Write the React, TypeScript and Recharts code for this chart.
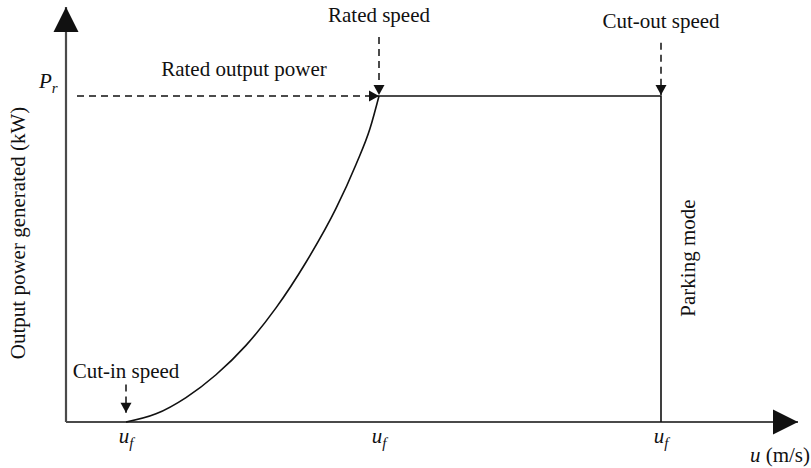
import React from "react";
import { ComposedChart, Line, XAxis, YAxis, ReferenceDot } from "recharts";

const FONT = "'Liberation Serif', 'Times New Roman', Times, serif";
const INK = "#111";
const AXIS_INK = "#4a4a4a";

// Schematic wind speeds (m/s) and power as a fraction of rated power
const cutInSpeed = 3;
const ratedSpeed = 15.65;
const cutOutSpeed = 29.75;
const ratedPower = 1;
const axisMaxSpeed = 36.6;
const axisMaxPower = 1.273;

// Ramp between cut-in and rated speed
const rampSpeeds = [3, 4.5, 6, 7.5, 9, 10.5, 12, 13.5, 14.5, 15.2, 15.65];
const rampPowers = [0, 0.025, 0.075, 0.145, 0.235, 0.35, 0.49, 0.655, 0.79, 0.9, 1];

const speedTicks = [cutInSpeed, ratedSpeed, cutOutSpeed];

type Pt = { u: number; p: number };

const rampData: Pt[] = rampSpeeds.map((u, i) => ({ u, p: rampPowers[i] }));
const plateauData: Pt[] = [
  { u: ratedSpeed, p: ratedPower },
  { u: cutOutSpeed, p: ratedPower },
  { u: cutOutSpeed, p: 0 },
];
const xAxisLine: Pt[] = [
  { u: 0, p: 0 },
  { u: axisMaxSpeed, p: 0 },
];
const yAxisLine: Pt[] = [
  { u: 0, p: 0 },
  { u: 0, p: axisMaxPower },
];

// Dashed pointer arrows
const ratedPowerGuide: Pt[] = [
  { u: 0.55, p: ratedPower },
  { u: ratedSpeed, p: ratedPower },
];
const ratedSpeedGuide: Pt[] = [
  { u: ratedSpeed, p: 1.181 },
  { u: ratedSpeed, p: 1.003 },
];
const cutOutGuide: Pt[] = [
  { u: cutOutSpeed, p: 1.163 },
  { u: cutOutSpeed, p: 1.003 },
];
const cutInGuide: Pt[] = [
  { u: cutInSpeed, p: 0.115 },
  { u: cutInSpeed, p: 0.028 },
];

type Dir = "up" | "down" | "right";

const headPoints = (cx: number, cy: number, dir: Dir, len: number, half: number) => {
  if (dir === "right") return `${cx},${cy} ${cx - len},${cy - half} ${cx - len},${cy + half}`;
  if (dir === "up") return `${cx},${cy} ${cx - half},${cy + len} ${cx + half},${cy + len}`;
  return `${cx},${cy} ${cx - half},${cy - len} ${cx + half},${cy - len}`;
};

// Draws an arrow head on the final point of a series
const arrowHead = (lastIndex: number, dir: Dir, len: number, half: number, color: string) =>
  (props: any) => {
    const { cx, cy, index } = props;
    if (index !== lastIndex || cx == null || cy == null) return <g key={`h-${index}`} />;
    return (
      <polygon
        key={`h-${index}`}
        points={headPoints(cx, cy, dir, len, half)}
        fill={color}
        stroke="none"
      />
    );
  };

const SpeedTick = (props: any) => {
  const { x, y } = props;
  return (
    <text x={x} y={y + 21} textAnchor="middle" fontFamily={FONT} fontSize={21} fill={INK}>
      <tspan fontStyle="italic">u</tspan>
      <tspan fontStyle="italic" fontSize={15} dy={5}>f</tspan>
    </text>
  );
};

// Text note anchored to a data position
const note = (
  key: string,
  u: number,
  p: number,
  dx: number,
  dy: number,
  content: React.ReactNode,
  anchor: "start" | "middle" | "end" = "middle",
  rotate = false
) => (
  <ReferenceDot
    key={key}
    x={u}
    y={p}
    r={0}
    ifOverflow="visible"
    shape={(props: any) => {
      const tx = props.cx + dx;
      const ty = props.cy + dy;
      return (
        <text
          x={tx}
          y={ty}
          textAnchor={anchor}
          fontFamily={FONT}
          fontSize={21}
          fill={INK}
          transform={rotate ? `rotate(-90, ${tx}, ${ty})` : undefined}
        >
          {content}
        </text>
      );
    }}
  />
);

export default function App() {
  return (
    <div style={{ position: "absolute", left: 0, top: 0, width: 811, height: 468, background: "#fff" }}>
      <ComposedChart width={811} height={468} margin={{ top: 7, right: 13, bottom: 0, left: 66 }}>
        <XAxis
          dataKey="u"
          type="number"
          domain={[0, axisMaxSpeed]}
          ticks={speedTicks}
          axisLine={false}
          tickLine={false}
          tickSize={0}
          tickMargin={0}
          height={46}
          tick={<SpeedTick />}
          interval={0}
        />
        <YAxis dataKey="p" type="number" domain={[0, axisMaxPower]} hide />

        {/* axes with arrow heads */}
        <Line
          data={xAxisLine}
          dataKey="p"
          type="linear"
          stroke={AXIS_INK}
          strokeWidth={2.2}
          dot={arrowHead(1, "right", 25, 12.5, "#111")}
          activeDot={false}
          isAnimationActive={false}
        />
        <Line
          data={yAxisLine}
          dataKey="p"
          type="linear"
          stroke={AXIS_INK}
          strokeWidth={2.2}
          dot={arrowHead(1, "up", 25, 12.5, "#111")}
          activeDot={false}
          isAnimationActive={false}
        />

        {/* power curve */}
        <Line
          data={rampData}
          dataKey="p"
          type="monotone"
          stroke={INK}
          strokeWidth={1.6}
          dot={false}
          activeDot={false}
          isAnimationActive={false}
        />
        <Line
          data={plateauData}
          dataKey="p"
          type="linear"
          stroke={INK}
          strokeWidth={1.6}
          dot={false}
          activeDot={false}
          isAnimationActive={false}
        />

        {/* dashed pointers */}
        {[
          { d: ratedPowerGuide, dir: "right" as Dir },
          { d: ratedSpeedGuide, dir: "down" as Dir },
          { d: cutOutGuide, dir: "down" as Dir },
          { d: cutInGuide, dir: "down" as Dir },
        ].map((g, i) => (
          <Line
            key={`guide-${i}`}
            data={g.d}
            dataKey="p"
            type="linear"
            stroke={INK}
            strokeWidth={1.5}
            strokeDasharray="7 5"
            dot={arrowHead(1, g.dir, 10, 5.5, INK)}
            activeDot={false}
            isAnimationActive={false}
          />
        ))}

        {note("rated-speed", ratedSpeed, ratedPower, 0, -74, "Rated speed")}
        {note("cut-out", cutOutSpeed, ratedPower, 0, -68, "Cut-out speed")}
        {note("rated-power", 8.9, ratedPower, 0, -20, "Rated output power")}
        {note("cut-in", cutInSpeed, 0, 0, -44, "Cut-in speed")}
        {note(
          "pr",
          0,
          ratedPower,
          -27,
          -8,
          <>
            <tspan fontStyle="italic">P</tspan>
            <tspan fontStyle="italic" fontSize={15} dy={5}>r</tspan>
          </>,
          "start"
        )}
        {note(
          "x-title",
          axisMaxSpeed,
          0,
          12,
          40,
          <>
            <tspan fontStyle="italic">u</tspan>
            <tspan> (m/s)</tspan>
          </>,
          "end"
        )}
        {note("y-title", 0, 0.58, -41, 0, "Output power generated (kW)", "middle", true)}
        {note("parking", cutOutSpeed, 0.503, 34, 0, "Parking mode", "middle", true)}
      </ComposedChart>
    </div>
  );
}
